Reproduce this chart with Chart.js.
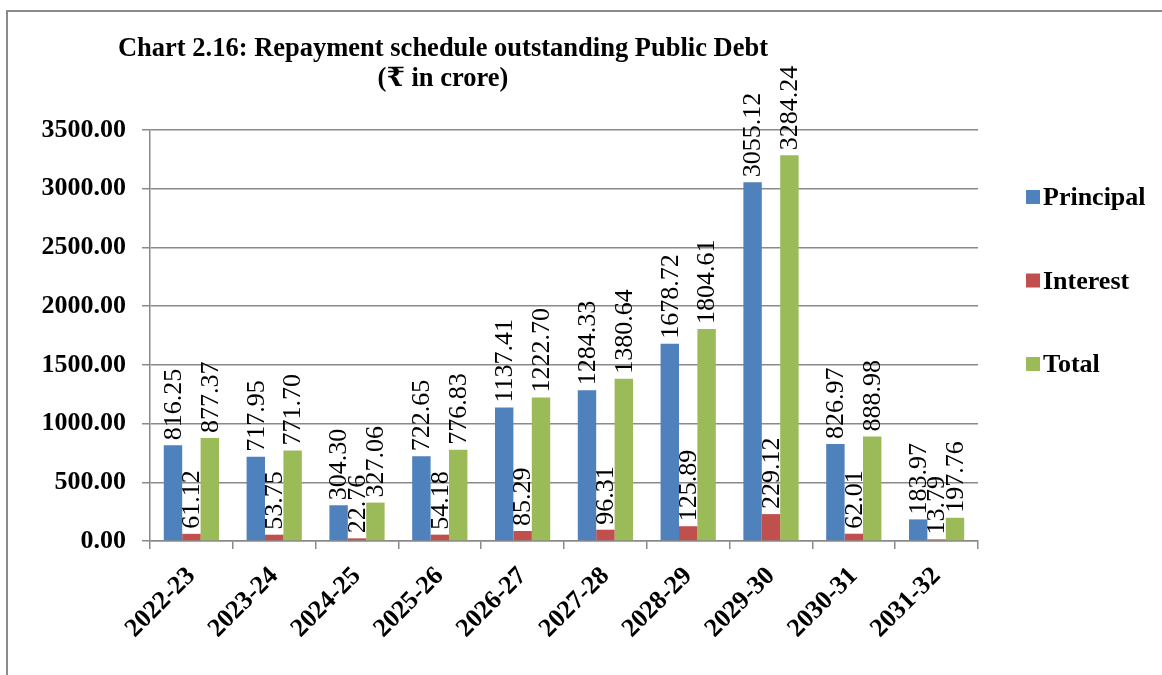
<!DOCTYPE html>
<html>
<head>
<meta charset="utf-8">
<script src="https://cdn.jsdelivr.net/npm/chart.js@4.4.1/dist/chart.umd.min.js"></script>
<style>
  html, body { margin: 0; padding: 0; background: #fff; }
  .main { position: relative; width: 1162px; height: 675px; overflow: hidden; }
  .frame { position: absolute; left: 6px; top: 10px; width: 1200px; height: 700px;
           border-left: 2px solid #8a8a8a; border-top: 2px solid #8a8a8a; }
  .title { position: absolute; left: 0; top: 32px; width: 886px; text-align: center;
           font: bold 26.5px "Liberation Serif", "DejaVu Serif", serif; line-height: 30px; color: #000; }
  canvas { position: absolute; left: 0; top: 0; }
</style>
</head>
<body>
<div class="main">
  <div class="frame"></div>
  <canvas id="debtChart" width="1162" height="675"></canvas>
  <div class="title">Chart 2.16: Repayment schedule outstanding Public Debt<br>(₹ in crore)</div>
</div>
<script>
/* --------------- Data --------------------- */
const years = ["2022-23","2023-24","2024-25","2025-26","2026-27","2027-28","2028-29","2029-30","2030-31","2031-32"];
const principal = [816.25, 717.95, 304.30, 722.65, 1137.41, 1284.33, 1678.72, 3055.12, 826.97, 183.97];
const interest = [61.12, 53.75, 22.76, 54.18, 85.29, 96.31, 125.89, 229.12, 62.01, 13.79];
const total = [877.37, 771.70, 327.06, 776.83, 1222.70, 1380.64, 1804.61, 3284.24, 888.98, 197.76];

const serif = '"Liberation Serif", "DejaVu Serif", serif';
const gridColor = '#8a8a8a';

// value labels, rotated, sitting on top of each bar
const barLabels = {
  id: 'barLabels',
  afterDatasetsDraw(chart) {
    const ctx = chart.ctx;
    ctx.save();
    ctx.font = '26px ' + serif;
    ctx.fillStyle = '#000';
    ctx.textAlign = 'left';
    ctx.textBaseline = 'middle';
    chart.data.datasets.forEach((ds, i) => {
      chart.getDatasetMeta(i).data.forEach((bar, j) => {
        ctx.save();
        ctx.translate(bar.x + 1, bar.y - 5);
        ctx.rotate(-Math.PI / 2);
        ctx.fillText(ds.data[j].toFixed(2), 0, 0);
        ctx.restore();
      });
    });
    ctx.restore();
  }
};

// legend on the right, spaced like the original
const sideLegend = {
  id: 'sideLegend',
  afterDraw(chart) {
    const ctx = chart.ctx;
    ctx.save();
    ctx.font = 'bold 26px ' + serif;
    ctx.textBaseline = 'alphabetic';
    ctx.textAlign = 'left';
    chart.data.datasets.forEach((ds, i) => {
      let top = 190 + i * 83.5;
      ctx.fillStyle = ds.backgroundColor;
      ctx.fillRect(1026, top, 14, 14);
      ctx.fillStyle = '#000';
      ctx.fillText(ds.label, 1043, top + 15);
    });
    ctx.restore();
  }
};

new Chart(document.getElementById('debtChart'), {
  type: 'bar',
  plugins: [barLabels, sideLegend],
  data: {
    labels: years,
    datasets: [
      { label: 'Principal', data: principal, backgroundColor: '#4f81bd' },
      { label: 'Interest', data: interest, backgroundColor: '#c0504d' },
      { label: 'Total', data: total, backgroundColor: '#9bbb59' }
    ]
  },
  options: {
    responsive: false,
    animation: false,
    layout: { padding: { top: 130, right: 184, left: 0, bottom: 0 } },
    datasets: { bar: { categoryPercentage: 0.667, barPercentage: 1.0 } },
    plugins: {
      legend: { display: false },
      title: { display: false },
      tooltip: { enabled: false }
    },
    scales: {
      x: {
        afterFit: (s) => { s.height = 134; },
        grid: { drawOnChartArea: false, drawTicks: true, tickLength: 8, color: gridColor, lineWidth: 1.5 },
        border: { display: true, color: gridColor, width: 1.5 },
        ticks: {
          minRotation: 45, maxRotation: 45, padding: 12,
          color: '#000', font: { family: serif, size: 26, weight: 'bold' }
        }
      },
      y: {
        min: 0, max: 3500,
        afterFit: (s) => { s.width = 150; },
        grid: { drawOnChartArea: true, drawTicks: true, tickLength: 8, color: gridColor, lineWidth: 1.5 },
        border: { display: true, color: gridColor, width: 1.5 },
        ticks: {
          stepSize: 500, padding: 16, color: '#000',
          font: { family: serif, size: 26, weight: 'bold' },
          callback: (v) => v.toFixed(2)
        }
      }
    }
  }
});
</script>
</body>
</html>
